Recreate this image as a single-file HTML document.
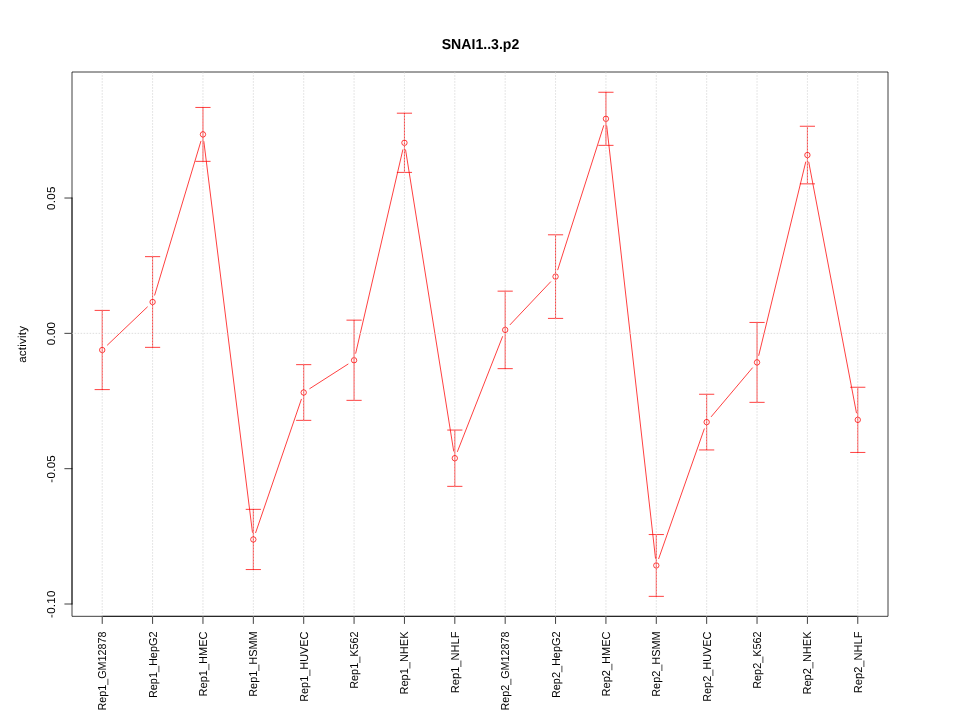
<!DOCTYPE html><html><head><meta charset="utf-8"><style>html,body{margin:0;padding:0;background:#fff;width:960px;height:720px;overflow:hidden}svg{display:block;will-change:transform}text{font-family:"Liberation Sans",sans-serif;fill:#000;text-rendering:geometricPrecision}</style></head><body>
<svg width="960" height="720" viewBox="0 0 960 720">
<rect width="960" height="720" fill="#fff"/>
<path d="M107.435 345.033L147.380 306.967M154.665 295.105L200.891 141.295M203.851 141.545L252.445 532.305M255.668 532.639L301.369 399.311M309.767 388.618L348.010 364.132M355.699 353.236L402.820 149.814M405.580 149.910L453.679 451.090M457.446 451.498L502.554 336.602M510.131 324.667L550.610 281.833M557.745 269.741L603.736 125.659M606.733 125.955L655.489 558.295M658.683 558.657L704.280 428.893M711.310 416.597L752.394 367.903M758.737 355.403L805.708 162.047M808.753 162.123L856.432 412.777" stroke="#f00" stroke-width="0.75" fill="none" stroke-linecap="round"/>
<circle cx="102.222" cy="350.000" r="2.7" stroke="#f00" stroke-width="0.75" fill="none"/>
<circle cx="152.593" cy="302.000" r="2.7" stroke="#f00" stroke-width="0.75" fill="none"/>
<circle cx="202.963" cy="134.400" r="2.7" stroke="#f00" stroke-width="0.75" fill="none"/>
<circle cx="253.333" cy="539.450" r="2.7" stroke="#f00" stroke-width="0.75" fill="none"/>
<circle cx="303.704" cy="392.500" r="2.7" stroke="#f00" stroke-width="0.75" fill="none"/>
<circle cx="354.074" cy="360.250" r="2.7" stroke="#f00" stroke-width="0.75" fill="none"/>
<circle cx="404.444" cy="142.800" r="2.7" stroke="#f00" stroke-width="0.75" fill="none"/>
<circle cx="454.815" cy="458.200" r="2.7" stroke="#f00" stroke-width="0.75" fill="none"/>
<circle cx="505.185" cy="329.900" r="2.7" stroke="#f00" stroke-width="0.75" fill="none"/>
<circle cx="555.556" cy="276.600" r="2.7" stroke="#f00" stroke-width="0.75" fill="none"/>
<circle cx="605.926" cy="118.800" r="2.7" stroke="#f00" stroke-width="0.75" fill="none"/>
<circle cx="656.296" cy="565.450" r="2.7" stroke="#f00" stroke-width="0.75" fill="none"/>
<circle cx="706.667" cy="422.100" r="2.7" stroke="#f00" stroke-width="0.75" fill="none"/>
<circle cx="757.037" cy="362.400" r="2.7" stroke="#f00" stroke-width="0.75" fill="none"/>
<circle cx="807.407" cy="155.050" r="2.7" stroke="#f00" stroke-width="0.75" fill="none"/>
<circle cx="857.778" cy="419.850" r="2.7" stroke="#f00" stroke-width="0.75" fill="none"/>
<path d="M102.222 389.600L102.222 310.400M95.022 310.400L109.422 310.400M95.022 389.600L109.422 389.600M152.593 347.350L152.593 256.650M145.393 256.650L159.793 256.650M145.393 347.350L159.793 347.350M202.963 161.350L202.963 107.450M195.763 107.450L210.163 107.450M195.763 161.350L210.163 161.350M253.333 569.550L253.333 509.350M246.133 509.350L260.533 509.350M246.133 569.550L260.533 569.550M303.704 420.350L303.704 364.650M296.504 364.650L310.904 364.650M296.504 420.350L310.904 420.350M354.074 400.350L354.074 320.150M346.874 320.150L361.274 320.150M346.874 400.350L361.274 400.350M404.444 172.400L404.444 113.200M397.244 113.200L411.644 113.200M397.244 172.400L411.644 172.400M454.815 486.350L454.815 430.050M447.615 430.050L462.015 430.050M447.615 486.350L462.015 486.350M505.185 368.650L505.185 291.150M497.985 291.150L512.385 291.150M497.985 368.650L512.385 368.650M555.556 318.400L555.556 234.800M548.356 234.800L562.756 234.800M548.356 318.400L562.756 318.400M605.926 145.350L605.926 92.250M598.726 92.250L613.126 92.250M598.726 145.350L613.126 145.350M656.296 596.350L656.296 534.550M649.096 534.550L663.496 534.550M649.096 596.350L663.496 596.350M706.667 449.950L706.667 394.250M699.467 394.250L713.867 394.250M699.467 449.950L713.867 449.950M757.037 402.350L757.037 322.450M749.837 322.450L764.237 322.450M749.837 402.350L764.237 402.350M807.407 183.850L807.407 126.250M800.207 126.250L814.607 126.250M800.207 183.850L814.607 183.850M857.778 452.450L857.778 387.250M850.578 387.250L864.978 387.250M850.578 452.450L864.978 452.450" stroke="#f00" stroke-width="0.75" fill="none" stroke-linecap="round"/>
<path d="M72.0 72.0L888.0 72.0L888.0 616.32L72.0 616.32Z" stroke="#000" stroke-width="0.75" fill="none"/>
<path d="M102.222 616.320L857.778 616.320M102.222 616.320L102.222 623.520M152.593 616.320L152.593 623.520M202.963 616.320L202.963 623.520M253.333 616.320L253.333 623.520M303.704 616.320L303.704 623.520M354.074 616.320L354.074 623.520M404.444 616.320L404.444 623.520M454.815 616.320L454.815 623.520M505.185 616.320L505.185 623.520M555.556 616.320L555.556 623.520M605.926 616.320L605.926 623.520M656.296 616.320L656.296 623.520M706.667 616.320L706.667 623.520M757.037 616.320L757.037 623.520M807.407 616.320L807.407 623.520M857.778 616.320L857.778 623.520M72.000 604.010L72.000 198.020M72.000 604.010L64.800 604.010M72.000 468.680L64.800 468.680M72.000 333.350L64.800 333.350M72.000 198.020L64.800 198.020" stroke="#000" stroke-width="0.75" fill="none" stroke-linecap="round"/>
<path d="M102.222 616.320L102.222 72.000M152.593 616.320L152.593 72.000M202.963 616.320L202.963 72.000M253.333 616.320L253.333 72.000M303.704 616.320L303.704 72.000M354.074 616.320L354.074 72.000M404.444 616.320L404.444 72.000M454.815 616.320L454.815 72.000M505.185 616.320L505.185 72.000M555.556 616.320L555.556 72.000M605.926 616.320L605.926 72.000M656.296 616.320L656.296 72.000M706.667 616.320L706.667 72.000M757.037 616.320L757.037 72.000M807.407 616.320L807.407 72.000M857.778 616.320L857.778 72.000M72.000 333.350L888.000 333.350" stroke="#d3d3d3" stroke-width="0.75" fill="none" stroke-linecap="round" stroke-dasharray="0.75 2.25"/>
<text font-size="11.5" text-anchor="end" transform="translate(106.222,631.500) rotate(-90) scale(0.9360,1)">Rep1_GM12878</text>
<text font-size="11.5" text-anchor="end" transform="translate(156.593,631.500) rotate(-90) scale(0.9464,1)">Rep1_HepG2</text>
<text font-size="11.5" text-anchor="end" transform="translate(206.963,631.500) rotate(-90) scale(0.9579,1)">Rep1_HMEC</text>
<text font-size="11.5" text-anchor="end" transform="translate(257.333,631.500) rotate(-90) scale(0.9454,1)">Rep1_HSMM</text>
<text font-size="11.5" text-anchor="end" transform="translate(307.704,631.500) rotate(-90) scale(0.9485,1)">Rep1_HUVEC</text>
<text font-size="11.5" text-anchor="end" transform="translate(358.074,631.500) rotate(-90) scale(0.9423,1)">Rep1_K562</text>
<text font-size="11.5" text-anchor="end" transform="translate(408.444,631.500) rotate(-90) scale(0.9569,1)">Rep1_NHEK</text>
<text font-size="11.5" text-anchor="end" transform="translate(458.815,631.500) rotate(-90) scale(0.9652,1)">Rep1_NHLF</text>
<text font-size="11.5" text-anchor="end" transform="translate(509.185,631.500) rotate(-90) scale(0.9360,1)">Rep2_GM12878</text>
<text font-size="11.5" text-anchor="end" transform="translate(559.556,631.500) rotate(-90) scale(0.9464,1)">Rep2_HepG2</text>
<text font-size="11.5" text-anchor="end" transform="translate(609.926,631.500) rotate(-90) scale(0.9579,1)">Rep2_HMEC</text>
<text font-size="11.5" text-anchor="end" transform="translate(660.296,631.500) rotate(-90) scale(0.9454,1)">Rep2_HSMM</text>
<text font-size="11.5" text-anchor="end" transform="translate(710.667,631.500) rotate(-90) scale(0.9485,1)">Rep2_HUVEC</text>
<text font-size="11.5" text-anchor="end" transform="translate(761.037,631.500) rotate(-90) scale(0.9423,1)">Rep2_K562</text>
<text font-size="11.5" text-anchor="end" transform="translate(811.407,631.500) rotate(-90) scale(0.9569,1)">Rep2_NHEK</text>
<text font-size="11.5" text-anchor="end" transform="translate(861.778,631.500) rotate(-90) scale(0.9652,1)">Rep2_NHLF</text>
<text font-size="11.5" letter-spacing="0.28" text-anchor="middle" transform="translate(55.250,604.150) rotate(-90)">-0.10</text>
<text font-size="11.5" letter-spacing="0.28" text-anchor="middle" transform="translate(55.250,468.820) rotate(-90)">-0.05</text>
<text font-size="11.5" letter-spacing="0.28" text-anchor="middle" transform="translate(55.250,333.490) rotate(-90)">0.00</text>
<text font-size="11.5" letter-spacing="0.28" text-anchor="middle" transform="translate(55.250,198.160) rotate(-90)">0.05</text>
<text font-size="11.5" letter-spacing="0.25" text-anchor="middle" transform="translate(26.100,344.280) rotate(-90)">activity</text>
<text font-size="14.4" font-weight="bold" text-anchor="middle" transform="translate(480.5,49) scale(0.98,1)">SNAI1..3.p2</text>
</svg></body></html>
